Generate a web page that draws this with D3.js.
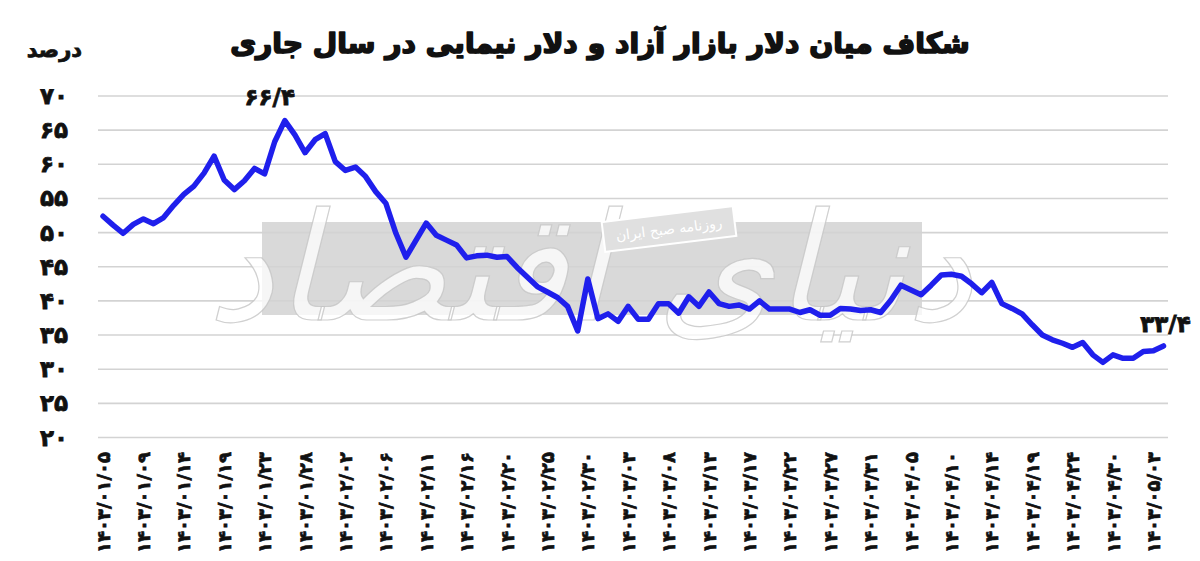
<!DOCTYPE html>
<html><head><meta charset="utf-8">
<script src="https://cdn.jsdelivr.net/npm/d3@7"></script>
<style>body{margin:0;background:#fff;} svg{display:block;}</style>
</head><body>
<svg id="chart" width="1200" height="561"></svg>
<script>
// ---- data ----
const titleText = "شکاف میان دلار بازار آزاد و دلار نیمایی در سال جاری";
const unitLabel = "درصد";
const watermarkText = "دنیای اقتصاد";
const watermarkSub = "روزنامه صبح ایران";
const yTicks = [20, 25, 30, 35, 40, 45, 50, 55, 60, 65, 70];
const yTickLabels = ["۲۰", "۲۵", "۳۰", "۳۵", "۴۰", "۴۵", "۵۰", "۵۵", "۶۰", "۶۵", "۷۰"];
const xLabels = ["۱۴۰۳/۰۱/۰۵", "۱۴۰۳/۰۱/۰۹", "۱۴۰۳/۰۱/۱۴", "۱۴۰۳/۰۱/۱۹", "۱۴۰۳/۰۱/۲۳", "۱۴۰۳/۰۱/۲۸",
  "۱۴۰۳/۰۲/۰۲", "۱۴۰۳/۰۲/۰۶", "۱۴۰۳/۰۲/۱۱", "۱۴۰۳/۰۲/۱۶", "۱۴۰۳/۰۲/۲۰", "۱۴۰۳/۰۲/۲۵", "۱۴۰۳/۰۲/۳۰",
  "۱۴۰۳/۰۳/۰۳", "۱۴۰۳/۰۳/۰۸", "۱۴۰۳/۰۳/۱۳", "۱۴۰۳/۰۳/۱۷", "۱۴۰۳/۰۳/۲۲", "۱۴۰۳/۰۳/۲۷", "۱۴۰۳/۰۳/۳۱",
  "۱۴۰۳/۰۴/۰۵", "۱۴۰۳/۰۴/۱۰", "۱۴۰۳/۰۴/۱۴", "۱۴۰۳/۰۴/۱۹", "۱۴۰۳/۰۴/۲۴", "۱۴۰۳/۰۴/۳۰", "۱۴۰۳/۰۵/۰۳"];
const labelStep = 4; // one date label every 4 trading days
const gapValues = [
  52.4, 51.1, 49.9, 51.2, 52.0, 51.3, 52.2, 54.0, 55.6, 56.8,
  58.7, 61.2, 57.7, 56.3, 57.6, 59.4, 58.6, 63.3, 66.4, 64.3,
  61.7, 63.6, 64.5, 60.4, 59.1, 59.6, 58.2, 56.0, 54.3, 49.9,
  46.4, 48.9, 51.4, 49.6, 48.9, 48.2, 46.3, 46.6, 46.7, 46.4,
  46.5, 44.9, 43.5, 42.1, 41.3, 40.5, 39.2, 35.6, 43.2, 37.4,
  38.1, 37.0, 39.2, 37.3, 37.3, 39.6, 39.6, 38.2, 40.6, 39.2,
  41.3, 39.6, 39.2, 39.4, 38.8, 40.0, 38.8, 38.8, 38.8, 38.3,
  38.7, 37.9, 37.9, 38.9, 38.8, 38.6, 38.7, 38.3, 40.1, 42.3,
  41.6, 40.9, 42.3, 43.8, 43.9, 43.6, 42.5, 41.2, 42.7, 39.6,
  38.9, 38.1, 36.5, 35.0, 34.3, 33.8, 33.2, 33.9, 32.1, 31.0,
  32.1, 31.6, 31.6, 32.6, 32.7, 33.4];
const annotations = [
  {index: 18, text: "۶۶/۴", dx: -15, dy: -16},
  {index: 105, text: "۳۳/۴", dx: 2, dy: -14}
];

// ---- chart ----
const svg = d3.select("#chart");
const FONT = "'DejaVu Sans', 'Noto Sans', sans-serif";
const INK = "#111";
const x = d3.scaleLinear().domain([0, gapValues.length - 1]).range([103, 1163.5]);
const y = d3.scaleLinear().domain([20, 70]).range([437.5, 96]);
const gridX0 = 98, gridX1 = 1168;

// watermark background box
svg.append("rect").attr("x", 262).attr("y", 222).attr("width", 660).attr("height", 93)
  .attr("fill", "#d9d9d9");

// gridlines
svg.append("g").selectAll("line").data(yTicks).join("line")
  .attr("x1", gridX0).attr("x2", gridX1)
  .attr("y1", d => y(d)).attr("y2", d => y(d))
  .attr("stroke", "#d3d3d3").attr("stroke-width", 1.6);

// watermark text
const wm2 = svg.append("g");
wm2.append("text").attr("x", 590).attr("y", 320)
  .attr("text-anchor", "middle").attr("direction", "rtl")
  .attr("font-family", FONT).attr("font-size", 150).attr("font-style", "italic")
  .attr("fill", "#ffffff").attr("fill-opacity", 0.75)
  .attr("stroke", "#c4c4c4").attr("stroke-width", 1.2).attr("stroke-opacity", 0.8)
  .text(watermarkText);
const sub = wm2.append("g").attr("transform", "translate(669,229) rotate(-7)");
sub.append("rect").attr("x", -66).attr("y", -15).attr("width", 132).attr("height", 30)
  .attr("fill", "#e0e0e0").attr("stroke", "#ffffff").attr("stroke-width", 2);
sub.append("text").attr("x", 0).attr("y", 5).attr("text-anchor", "middle").attr("direction", "rtl")
  .attr("font-family", FONT).attr("font-size", 14).attr("fill", "#ffffff").text(watermarkSub);

// line
const line = d3.line().x((d, i) => x(i)).y(d => y(d));
svg.append("path").datum(gapValues)
  .attr("d", line).attr("fill", "none")
  .attr("stroke", "#1f1fec").attr("stroke-width", 5.5)
  .attr("stroke-linejoin", "round").attr("stroke-linecap", "round");

// y tick labels
svg.append("g").selectAll("text").data(yTicks).join("text")
  .attr("x", 68).attr("y", d => y(d))
  .attr("text-anchor", "end").attr("dominant-baseline", "central")
  .attr("font-family", FONT).attr("font-weight", "bold").attr("font-size", 23)
  .attr("fill", INK).attr("stroke", INK).attr("stroke-width", 0.8)
  .text((d, i) => yTickLabels[i]);

// x labels
svg.append("g").selectAll("text").data(xLabels).join("text")
  .attr("transform", (d, i) => `translate(${x(i * labelStep)},452) rotate(-90)`)
  .attr("text-anchor", "end").attr("dominant-baseline", "central")
  .attr("font-family", FONT).attr("font-weight", "bold").attr("font-size", 18)
  .attr("fill", INK).attr("stroke", INK).attr("stroke-width", 0.7)
  .text(d => d);

// annotations
svg.append("g").selectAll("text").data(annotations).join("text")
  .attr("x", d => x(d.index) + d.dx).attr("y", d => y(gapValues[d.index]) + d.dy)
  .attr("text-anchor", "middle")
  .attr("font-family", FONT).attr("font-weight", "bold").attr("font-size", 23)
  .attr("fill", INK).attr("stroke", INK).attr("stroke-width", 0.8)
  .text(d => d.text);

// title
const t = svg.append("text").attr("x", 600).attr("y", 53)
  .attr("text-anchor", "middle").attr("direction", "rtl")
  .attr("font-family", FONT).attr("font-weight", "bold").attr("font-size", 30)
  .attr("fill", INK).attr("stroke", INK).attr("stroke-width", 1.7)
  .attr("stroke-linejoin", "round")
  .text(titleText);
const tw = t.node().getComputedTextLength();
if (tw > 0) t.attr("font-size", Math.min(40, 30 * 740 / tw));

// unit label (right edge at x=82)
svg.append("text").attr("x", 82).attr("y", 57)
  .attr("text-anchor", "start").attr("direction", "rtl")
  .attr("font-family", FONT).attr("font-weight", "bold").attr("font-size", 21)
  .attr("fill", INK).attr("stroke", INK).attr("stroke-width", 0.8)
  .text(unitLabel);
</script>
</body></html>
